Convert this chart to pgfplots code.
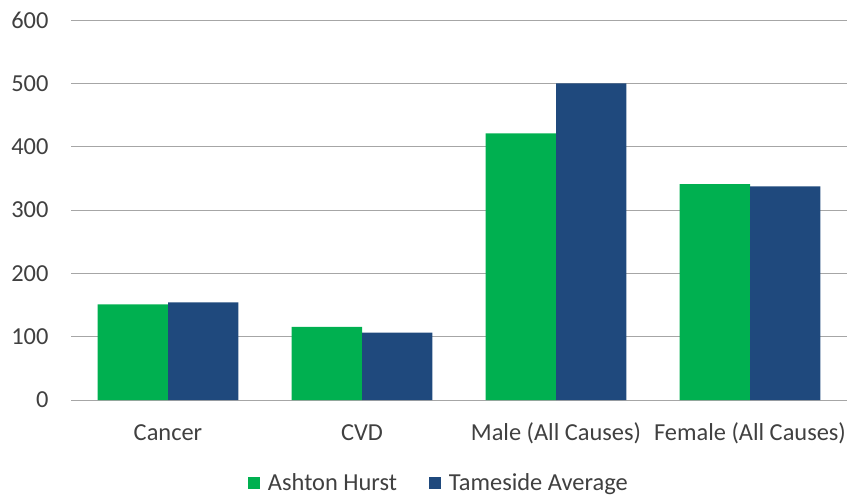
\documentclass[border=0pt]{standalone}
\usepackage{pgfplots}
\pgfplotsset{compat=1.18}
\usepackage{fontspec}
\setmainfont{Carlito}
\definecolor{cgreen}{HTML}{00B050}
\definecolor{cblue}{HTML}{1F497D}
\definecolor{cgrid}{HTML}{A6A6A6}
\definecolor{ctext}{HTML}{404040}
\begin{document}
\begin{tikzpicture}
\useasboundingbox (-71bp,-96bp) rectangle (777bp,400bp);
\begin{axis}[
  at={(0,0)}, anchor=south west,
  scale only axis, width=776bp, height=380bp,
  xmin=-0.5, xmax=3.5, ymin=0, ymax=600,
  ytick={0,100,...,600},
  xtick={0,1,2,3},
  xticklabels={Cancer, CVD, Male (All Causes), Female (All Causes)},
  major tick length=0pt,
  axis x line*=bottom, axis y line*=left,
  x axis line style={cgrid, line width=1bp},
  y axis line style={draw=none},
  ymajorgrids, grid style={cgrid, line width=1bp},
  font=\fontsize{24.5}{29}\selectfont,
  tick label style={text=ctext},
  /pgf/number format/assume math mode=true,
  yticklabel style={anchor=east, xshift=-19bp},
  xticklabel style={anchor=base, yshift=-40bp},
  ybar, bar width=0.363,
  legend columns=2,
  legend style={draw=none, at={(0.474,-0.218)}, anchor=center, font=\fontsize{24.5}{29}\selectfont\color{ctext},
    /tikz/every even column/.append style={column sep=30bp}},
  legend image code/.code={\fill[#1] (0bp,-6bp) rectangle (12bp,6bp); \path (18bp,0bp);},
]
\addplot[fill=cgreen, draw=none, bar shift=-0.1815] coordinates {(0,151) (1,115.5) (2,421) (3,341)};
\addplot[fill=cblue, draw=none, bar shift=0.1815] coordinates {(0,154) (1,106.5) (2,500) (3,337.5)};
\legend{Ashton Hurst, Tameside Average}
\end{axis}
\end{tikzpicture}
\end{document}
